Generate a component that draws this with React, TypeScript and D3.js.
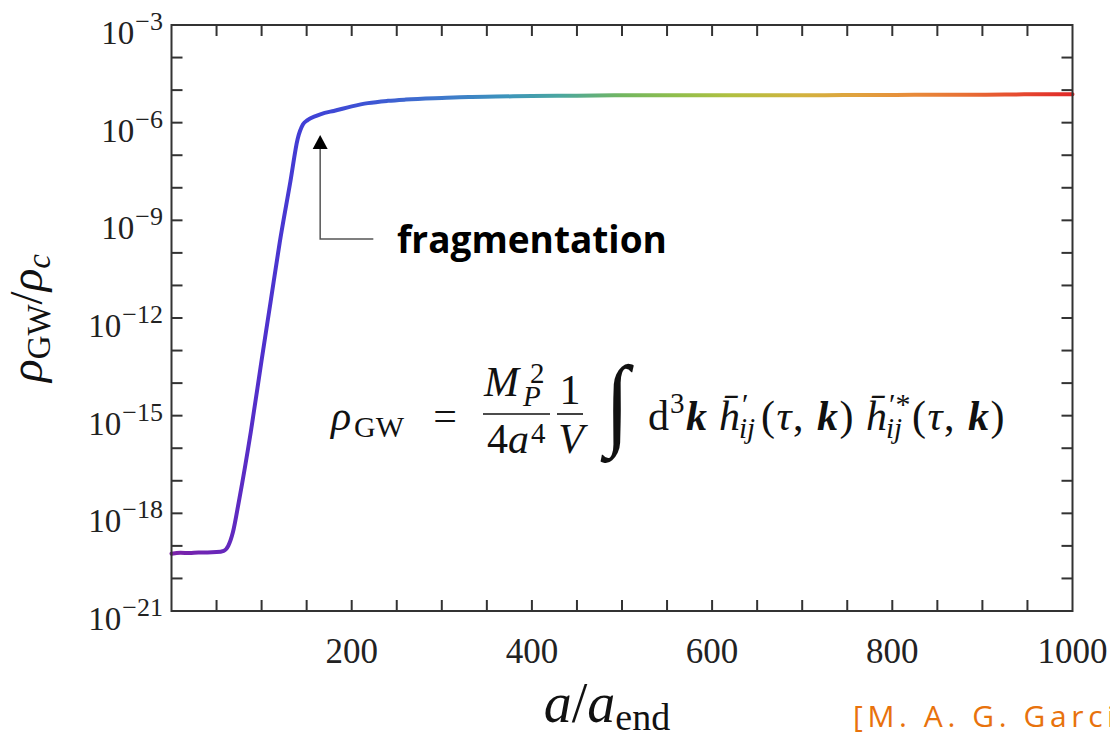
import React from "react";
import * as d3 from "d3";

// Scale factor a/a_end and log10 of rho_GW / rho_c along the curve
const scaleFactor = [
  0, 10, 20, 30, 40, 50, 58, 63, 68, 75, 88, 100, 110, 120, 132, 140, 146, 151,
  160, 170, 180, 200, 218, 240, 260, 300, 330, 360, 400, 450, 500, 550, 600, 650,
  700, 750, 800, 850, 900, 950, 1000,
];
const log10Rho = [
  -19.24, -19.21, -19.22, -19.2, -19.2, -19.19, -19.15, -19.0, -18.6, -17.6,
  -15.5, -13.3, -11.5, -9.7, -7.8, -6.5, -6.05, -5.92, -5.8, -5.7, -5.64, -5.5,
  -5.4, -5.33, -5.29, -5.24, -5.21, -5.2, -5.18, -5.17, -5.16, -5.16, -5.16,
  -5.16, -5.16, -5.15, -5.15, -5.14, -5.14, -5.13, -5.13,
];

const xTickLabels = [200, 400, 600, 800, 1000];
const xMinorStep = 50;
const yLabelExponents = [-3, -6, -9, -12, -15, -18, -21];

// rainbow colouring of the curve along a/a_end
const colorStops: [number, string][] = [
  [0, "#7c22a8"],
  [0.05, "#6a26b8"],
  [0.1, "#5030cc"],
  [0.15, "#4040d6"],
  [0.22, "#3d55d4"],
  [0.3, "#3f78cc"],
  [0.37, "#3c94bc"],
  [0.43, "#4aa6a0"],
  [0.5, "#72b660"],
  [0.56, "#90be4c"],
  [0.62, "#b0c040"],
  [0.7, "#d2b23e"],
  [0.76, "#e0a23e"],
  [0.82, "#e88c3a"],
  [0.88, "#e87034"],
  [0.94, "#e64a30"],
  [1, "#e02828"],
];

const W = 1110;
const H = 734;
const left = 171.5;
const right = 1072.5;
const top = 25;
const bottom = 611;

const serif = "'Liberation Serif', 'DejaVu Serif', serif";
const sans = "'Open Sans', 'DejaVu Sans', sans-serif";

// (τ, k) argument group of the formula
function Args({ x, y }: { x: number; y: number }) {
  return (
    <text x={x} y={y} fontSize={42} letterSpacing={1.5}>
      (<tspan fontStyle="italic">τ</tspan>,{" "}
      <tspan fontWeight="bold" fontStyle="italic">
        k
      </tspan>
      )
    </text>
  );
}

// h-bar prime with ij subscript
function HPrime({ x, y, star }: { x: number; y: number; star?: boolean }) {
  return (
    <g>
      <text x={x} y={y} fontSize={42} fontStyle="italic">
        h̄
      </text>
      <text x={x + 23} y={y - 16} fontSize={30}>
        {star ? "′*" : "′"}
      </text>
      <text x={x + 20} y={y + 8} fontSize={29} fontStyle="italic">
        ij
      </text>
    </g>
  );
}

export default function App() {
  const x = d3.scaleLinear().domain([0, 1000]).range([left, right]);
  const y = d3.scaleLog().domain([1e-21, 1e-3]).range([bottom, top]);

  const points = scaleFactor.map((a, i) => ({ a, v: Math.pow(10, log10Rho[i]) }));
  const line = d3
    .line<{ a: number; v: number }>()
    .x((d) => x(d.a))
    .y((d) => y(d.v))
    .curve(d3.curveMonotoneX);

  const xMinor = d3.range(xMinorStep, 1000, xMinorStep);
  const yDecades = d3.range(-20, -3).map((e) => Math.pow(10, e));
  const tick = 11;
  const axisColor = "#333";

  // annotation arrow pointing at the fragmentation knee
  const arrowA = 165;
  const arrowTip = y(Math.pow(10, -6.38));
  const arrowBend = y(Math.pow(10, -9.57));
  const arrowEnd = x(224);

  const base = 430;

  return (
    <svg
      width={W}
      height={H}
      viewBox={`0 0 ${W} ${H}`}
      style={{ position: "absolute", left: 0, top: 0, background: "#fff" }}
    >
      <defs>
        <linearGradient
          id="rainbow"
          gradientUnits="userSpaceOnUse"
          x1={x(0)}
          x2={x(1000)}
          y1={0}
          y2={0}
        >
          {colorStops.map(([o, c]) => (
            <stop key={o} offset={o} stopColor={c} />
          ))}
        </linearGradient>
      </defs>

      {/* data curve */}
      <path
        d={line(points) || ""}
        fill="none"
        stroke="url(#rainbow)"
        strokeWidth={4}
        strokeLinejoin="round"
        strokeLinecap="round"
      />

      {/* frame */}
      <rect
        x={left}
        y={top}
        width={right - left}
        height={bottom - top}
        fill="none"
        stroke={axisColor}
        strokeWidth={2}
      />

      {/* x ticks, bottom and top */}
      {xMinor.map((v) => (
        <g key={v} stroke={axisColor} strokeWidth={2}>
          <line x1={x(v)} x2={x(v)} y1={bottom} y2={bottom - tick} />
          <line x1={x(v)} x2={x(v)} y1={top} y2={top + tick} />
        </g>
      ))}
      {/* y ticks, left and right */}
      {yDecades.map((v) => (
        <g key={v} stroke={axisColor} strokeWidth={2}>
          <line x1={left} x2={left + tick} y1={y(v)} y2={y(v)} />
          <line x1={right} x2={right - tick} y1={y(v)} y2={y(v)} />
        </g>
      ))}

      {/* x tick labels */}
      {xTickLabels.map((v) => (
        <text
          key={v}
          x={x(v)}
          y={663}
          textAnchor="middle"
          fontFamily={serif}
          fontSize={35}
          fill="#222"
        >
          {v}
        </text>
      ))}

      {/* y tick labels */}
      {yLabelExponents.map((e) => (
        <text
          key={e}
          x={163}
          y={y(Math.pow(10, e)) + 19}
          textAnchor="end"
          fontFamily={serif}
          fontSize={33}
          fill="#222"
        >
          10
          <tspan fontSize={26} dy={-14} dx={1}>
            {"\u2212" + Math.abs(e)}
          </tspan>
        </text>
      ))}

      {/* axis titles */}
      <text
        x={607}
        y={722}
        textAnchor="middle"
        fontFamily={serif}
        fontSize={56}
        fill="#111"
      >
        <tspan fontStyle="italic">a</tspan>/<tspan fontStyle="italic">a</tspan>
        <tspan fontSize={38} dy={8}>
          end
        </tspan>
      </text>
      <text
        transform="translate(42,318) rotate(-90)"
        textAnchor="middle"
        fontFamily={serif}
        fontSize={47}
        fill="#111"
      >
        <tspan fontStyle="italic">ρ</tspan>
        <tspan fontSize={33} dy={8}>
          GW
        </tspan>
        <tspan dy={-8}>/</tspan>
        <tspan fontStyle="italic">ρ</tspan>
        <tspan fontSize={33} dy={8} fontStyle="italic">
          c
        </tspan>
      </text>

      {/* annotation */}
      <path
        d={`M${x(arrowA)},${arrowTip + 12} L${x(arrowA)},${arrowBend} L${arrowEnd},${arrowBend}`}
        fill="none"
        stroke="#555"
        strokeWidth={1.5}
      />
      <path d={`M${x(arrowA)},${arrowTip} l-7.5,14 l15,0 Z`} fill="#000" />
      <text x={397} y={253} fontFamily={sans} fontWeight="bold" fontSize={37} fill="#000">
        fragmentation
      </text>

      {/* energy density formula */}
      <g fontFamily={serif} fill="#111">
        <text x={331} y={base} fontSize={42} fontStyle="italic">
          ρ
        </text>
        <text x={354} y={base + 7} fontSize={30}>
          GW
        </text>
        <text x={445} y={base} fontSize={42} textAnchor="middle">
          =
        </text>

        <line x1={483} x2={550} y1={414} y2={414} stroke="#111" strokeWidth={1.6} />
        <text x={484} y={396} fontSize={42} fontStyle="italic">
          M
        </text>
        <text x={530} y={383} fontSize={29}>
          2
        </text>
        <text x={523} y={406} fontSize={29} fontStyle="italic">
          P
        </text>
        <text x={487} y={453} fontSize={42}>
          4<tspan fontStyle="italic">a</tspan>
        </text>
        <text x={531} y={443} fontSize={29}>
          4
        </text>

        <line x1={557} x2={583} y1={414} y2={414} stroke="#111" strokeWidth={1.6} />
        <text x={570} y={404} fontSize={42} textAnchor="middle">
          1
        </text>
        <text x={571} y={453} fontSize={42} textAnchor="middle" fontStyle="italic">
          V
        </text>

        <text
          transform="translate(605,436) scale(0.8,0.92)"
          fontSize={110}
          fontFamily={serif}
        >
          ∫
        </text>

        <text x={648} y={base} fontSize={42}>
          d
        </text>
        <text x={670} y={base - 17} fontSize={29}>
          3
        </text>
        <text x={686} y={base} fontSize={42} fontWeight="bold" fontStyle="italic">
          k
        </text>
        <HPrime x={719} y={base} />
        <Args x={761} y={base} />
        <HPrime x={866} y={base} star />
        <Args x={912} y={base} />
      </g>

      {/* citation */}
      <text x={853} y={727} fontFamily={sans} fontSize={30} letterSpacing={4.6} fill="#e8720c">
        [M. A. G. Garcia et al.]
      </text>
    </svg>
  );
}
